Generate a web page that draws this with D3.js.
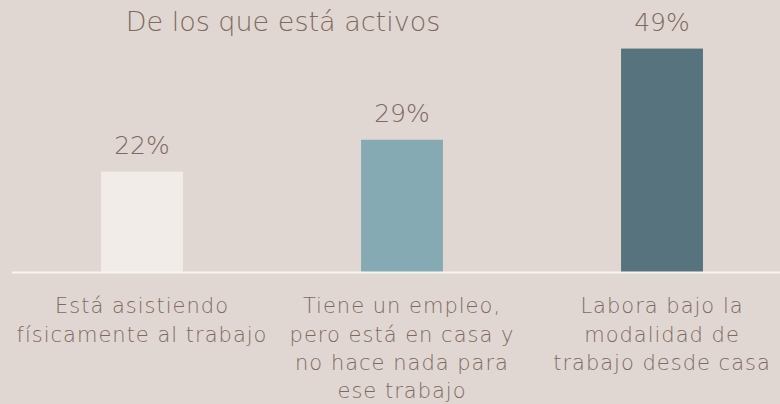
<!DOCTYPE html>
<html>
<head>
<meta charset="utf-8">
<script src="https://cdn.jsdelivr.net/npm/d3@7"></script>
<style>
  html, body { margin: 0; padding: 0; background: #e0d7d2; }
  svg text { font-family: "DejaVu Sans", sans-serif; fill: #7f6a5f; }
</style>
</head>
<body>
<div id="chart"></div>
<script>
var categories = [
  "Está asistiendo\nfísicamente al trabajo",
  "Tiene un empleo,\npero está en casa y\nno hace nada para\nese trabajo",
  "Labora bajo la\nmodalidad de\ntrabajo desde casa"
];
var values = [22, 29, 49];
var barColors = ["#f2ece9", "#86aab3", "#57737d"];
var title = "De los que está activos";

var width = 780, height = 404;

var svg = d3.select("#chart").append("svg")
    .attr("width", width)
    .attr("height", height);

svg.append("rect").attr("width", width).attr("height", height).attr("fill", "#e0d7d2");

var x = d3.scaleBand()
    .domain(categories)
    .range([12, 792])
    .paddingInner(0.685)
    .paddingOuter(0.3425);

var y = d3.scaleLinear()
    .domain([0, 50])
    .range([272, 44]);

// bars
svg.selectAll("rect.bar")
    .data(values)
    .enter().append("rect")
    .attr("class", "bar")
    .attr("x", function(d, i) { return x(categories[i]); })
    .attr("y", function(d) { return y(d); })
    .attr("width", x.bandwidth())
    .attr("height", function(d) { return y(0) - y(d); })
    .attr("fill", function(d, i) { return barColors[i]; });

// baseline
svg.append("line")
    .attr("x1", 12).attr("x2", width)
    .attr("y1", y(0) + 0.5).attr("y2", y(0) + 0.5)
    .attr("stroke", "#f7f4f2")
    .attr("stroke-width", 2);

// value labels
svg.selectAll("text.val")
    .data(values)
    .enter().append("text")
    .attr("class", "val")
    .attr("x", function(d, i) { return x(categories[i]) + x.bandwidth() / 2; })
    .attr("y", function(d) { return y(d) - 17.5; })
    .attr("text-anchor", "middle")
    .style("font-size", "25px")
    .style("font-weight", 300)
    .text(function(d) { return d + "%"; });

// category axis
var xAxis = svg.append("g")
    .attr("transform", "translate(0," + y(0) + ")")
    .call(d3.axisBottom(x).tickSize(0).tickPadding(0));
xAxis.select(".domain").remove();
xAxis.selectAll(".tick text").each(function(d) {
  var t = d3.select(this);
  t.text(null).attr("y", 0).attr("dy", null)
    .attr("fill", "#7f6a5f")
    .style("font-size", "21px")
    .style("font-weight", 300)
    .style("letter-spacing", "1px")
    .style("font-family", '"DejaVu Sans", sans-serif');
  d.split("\n").forEach(function(line, k) {
    t.append("tspan").attr("x", 0).attr("y", 41.3 + k * 28.3).text(line);
  });
});

// title
svg.append("text")
    .attr("x", 283)
    .attr("y", 31)
    .attr("text-anchor", "middle")
    .style("font-size", "27px")
    .style("font-weight", 300)
    .text(title);
</script>
</body>
</html>
